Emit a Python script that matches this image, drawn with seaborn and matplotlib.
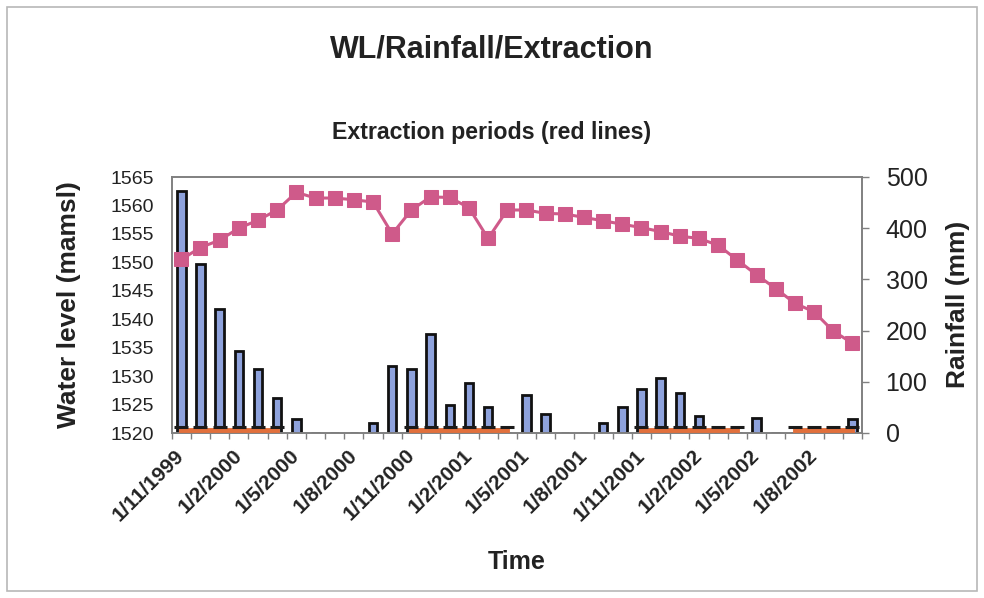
import numpy as np
import pandas as pd
import matplotlib
matplotlib.use("Agg")
import matplotlib.pyplot as plt
import seaborn as sns
from matplotlib.patches import Rectangle

# ---------------- data ----------------
months = ["1/11/1999", "1/12/1999", "1/1/2000", "1/2/2000", "1/3/2000", "1/4/2000",
          "1/5/2000", "1/6/2000", "1/7/2000", "1/8/2000", "1/9/2000", "1/10/2000",
          "1/11/2000", "1/12/2000", "1/1/2001", "1/2/2001", "1/3/2001", "1/4/2001",
          "1/5/2001", "1/6/2001", "1/7/2001", "1/8/2001", "1/9/2001", "1/10/2001",
          "1/11/2001", "1/12/2001", "1/1/2002", "1/2/2002", "1/3/2002", "1/4/2002",
          "1/5/2002", "1/6/2002", "1/7/2002", "1/8/2002", "1/9/2002", "1/10/2002"]

water_level = [1550.5, 1552.6, 1553.9, 1556.0, 1557.4, 1559.2, 1562.3, 1561.3, 1561.3,
               1561.0, 1560.6, 1555.0, 1559.2, 1561.5, 1561.4, 1559.6, 1554.2, 1559.2,
               1559.2, 1558.6, 1558.5, 1557.9, 1557.3, 1556.7, 1556.1, 1555.4, 1554.6,
               1554.2, 1553.0, 1550.4, 1547.8, 1545.4, 1542.8, 1541.3, 1537.9, 1535.8]

rainfall = [473, 330, 242, 160, 125, 68, 27, 0, 0, 0, 19, 131,
            125, 193, 55, 97, 51, 0, 75, 38, 0, 0, 19, 50,
            85, 107, 79, 33, 0, 0, 30, 0, 0, 0, 0, 27]

# 1 = extraction month, nan = no extraction
extraction = [1, 1, 1, 1, 1, 1, np.nan, np.nan, np.nan, np.nan, np.nan, np.nan,
              1, 1, 1, 1, 1, 1, np.nan, np.nan, np.nan, np.nan, np.nan, np.nan,
              1, 1, 1, 1, 1, 1, np.nan, np.nan, 1, 1, 1, 1]

wl_ticks = [1520, 1525, 1530, 1535, 1540, 1545, 1550, 1555, 1560, 1565]
rain_ticks = [0, 100, 200, 300, 400, 500]
label_every = 3

# ---------------- style ----------------
sns.set_theme(style="white")
plt.rcParams["font.family"] = ["Liberation Sans", "DejaVu Sans"]

W, H = 984, 598
fig = plt.figure(figsize=(W / 100, H / 100), dpi=100)
fig.patch.set_facecolor("white")

# outer chart border
fig.add_artist(Rectangle((7 / W, 1 - 591 / H), (977 - 7) / W, (591 - 7) / H,
                         transform=fig.transFigure, fill=False,
                         edgecolor="#B8B8B8", linewidth=1.2))

left, right, top, bottom = 171.7, 862, 177, 433
ax = fig.add_axes([left / W, 1 - bottom / H, (right - left) / W, (bottom - top) / H])
ax2 = ax.twinx()

idx = np.arange(len(months))
df = pd.DataFrame({"idx": idx, "month": months, "wl": water_level,
                   "rain": rainfall, "ext": extraction})

pink = "#CF5A8A"
bar_blue = "#8EA2DC"
orange = "#E2703C"

# rainfall bars (right axis)
sns.barplot(data=df, x="idx", y="rain", ax=ax2, color=bar_blue, saturation=1,
            width=0.44, edgecolor="#111111", linewidth=2.0)

# water level (left axis)
sns.lineplot(data=df, x="idx", y="wl", ax=ax, color=pink, linewidth=2.2,
             marker="s", markersize=10, markeredgecolor=pink, markerfacecolor=pink)

# extraction periods
ext_arr = np.array(extraction)
ax.plot(idx, ext_arr * 1520.45, color=orange, linewidth=3.5,
        solid_capstyle="projecting", zorder=5)
ax.plot(idx, ext_arr * 1521.0, linestyle="none", marker="_",
        markersize=10, markeredgewidth=2.2, color="#1a1a1a", zorder=6)

# layering: line axes on top of bars
ax.set_zorder(ax2.get_zorder() + 1)
ax.patch.set_visible(False)
ax2.patch.set_facecolor("white")

for a in (ax, ax2):
    a.set_xlim(-0.5, len(months) - 0.5)
    a.set_xlabel("")
    a.set_ylabel("")
    a.grid(False)

ax.set_ylim(1520, 1565)
ax.set_yticks(wl_ticks)
ax2.set_ylim(0, 500)
ax2.set_yticks(rain_ticks)

# x ticks: boundaries as minor ticks, labels every 3 months
ax.set_xticks(idx[::label_every])
ax.set_xticklabels([months[i] for i in idx[::label_every]], rotation=45,
                   ha="right", va="center", rotation_mode="anchor",
                   fontsize=15, fontweight="bold", color="#222222")
ax.set_xticks(np.arange(-0.5, len(months) + 0.5, 1), minor=True)
ax.tick_params(axis="x", which="major", length=0, pad=14)
ax.tick_params(axis="x", which="minor", length=4, width=1, color="#808080",
               direction="out", bottom=True)
ax2.tick_params(axis="x", which="both", bottom=False, labelbottom=False)

ax.tick_params(axis="y", left=False, labelsize=14, pad=7, labelcolor="#222222")
ax2.tick_params(axis="y", right=True, length=5, width=1, color="#808080",
                direction="out", labelsize=18, pad=12, labelcolor="#222222")

for a in (ax, ax2):
    for s in a.spines.values():
        s.set_color("#808080")
        s.set_linewidth(1.2)
        s.set_visible(True)

# texts
fig.text(492 / W, 1 - 50 / H, "WL/Rainfall/Extraction", ha="center", va="center",
         fontsize=22, fontweight="bold", color="#222222")
fig.text(492 / W, 1 - 133 / H, "Extraction periods (red lines)", ha="center",
         va="center", fontsize=16.7, fontweight="bold", color="#222222")
fig.text(69 / W, 1 - 305 / H, "Water level (mamsl)", ha="center", va="center",
         rotation=90, fontsize=19, fontweight="bold", color="#222222")
fig.text(958 / W, 1 - 304 / H, "Rainfall (mm)", ha="center", va="center",
         rotation=90, fontsize=19, fontweight="bold", color="#222222")
fig.text(517 / W, 1 - 562 / H, "Time", ha="center", va="center",
         fontsize=18, fontweight="bold", color="#222222")

fig.savefig("out.png", dpi=100, facecolor="white")
